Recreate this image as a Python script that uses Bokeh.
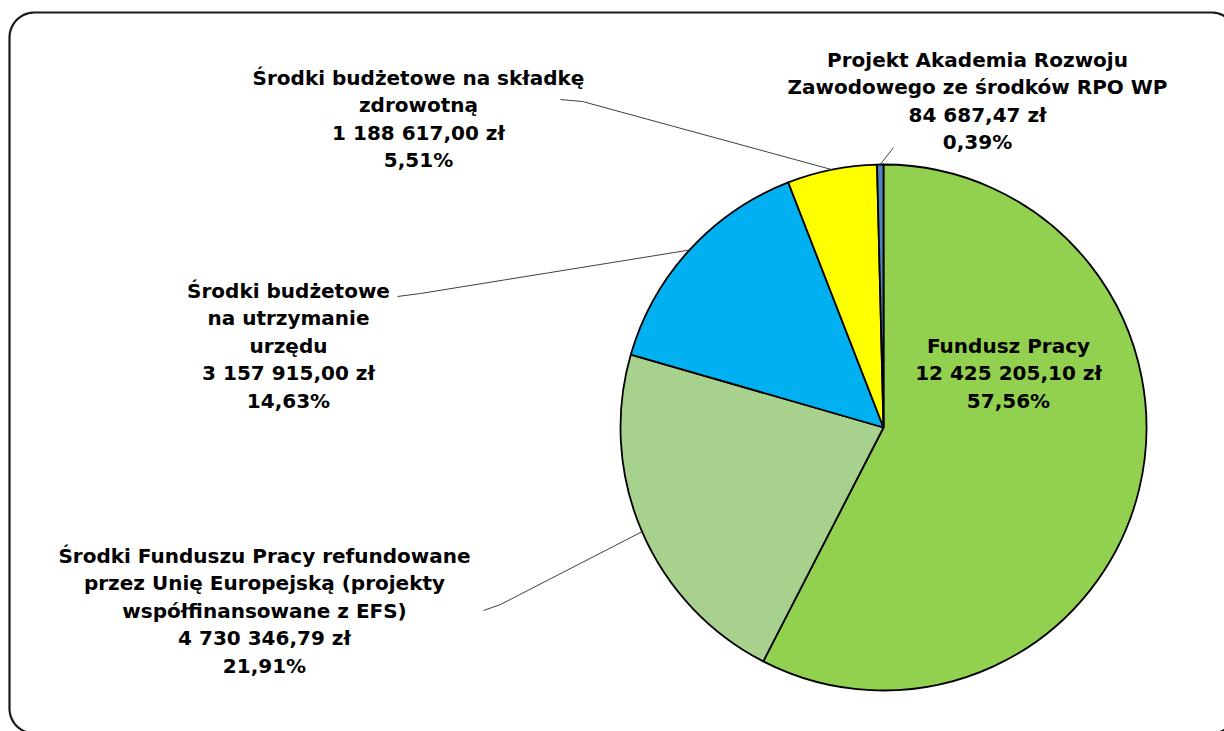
import numpy as np
from bokeh.plotting import figure
from bokeh.models import ColumnDataSource
from bokeh.core.properties import value
from bokeh.embed import file_html
from bokeh.resources import INLINE

# ---------------- data ----------------
categories = [
    "Fundusz Pracy",
    "Środki Funduszu Pracy refundowane przez Unię Europejską (projekty współfinansowane z EFS)",
    "Środki budżetowe na utrzymanie urzędu",
    "Środki budżetowe na składkę zdrowotną",
    "Projekt Akademia Rozwoju Zawodowego ze środków RPO WP",
]
category_lines = [
    ["Fundusz Pracy"],
    ["Środki Funduszu Pracy refundowane", "przez Unię Europejską (projekty", "współfinansowane z EFS)"],
    ["Środki budżetowe", "na utrzymanie", "urzędu"],
    ["Środki budżetowe na składkę", "zdrowotną"],
    ["Projekt Akademia Rozwoju", "Zawodowego ze środków RPO WP"],
]
amounts = [12425205.10, 4730346.79, 3157915.00, 1188617.00, 84687.47]
amount_labels = ["12 425 205,10 zł", "4 730 346,79 zł", "3 157 915,00 zł", "1 188 617,00 zł", "84 687,47 zł"]
percent_labels = ["57,56%", "21,91%", "14,63%", "5,51%", "0,39%"]
colors = ["#92D050", "#A9D18E", "#00B0F0", "#FFFF00", "#4F81BD"]

# ---------------- layout ----------------
W, H = 1224, 731
def fx(x):  # image x -> plot x
    return x
def fy(y):  # image y -> plot y
    return H - y

CX, CY, R = fx(883), fy(427), 263
label_anchor = [(1008, 345), (264, 555), (288, 290), (418, 77), (977, 59)]  # image coords
label_leader_start = [None, [(483, 610), (500, 604)], [(397, 296), (420, 293)], [(560, 99), (582, 101)], [(893, 147)]]
LINE_SP = 27.5

p = figure(width=W, height=H, x_range=(0, W), y_range=(0, H), output_backend="svg",
           toolbar_location=None, min_border=0, x_axis_type=None, y_axis_type=None)
p.grid.grid_line_color = None
p.outline_line_color = None
p.background_fill_color = "white"
p.border_fill_color = "white"

# rounded frame
rr = 25
left, top, right, bottom = fx(9), fy(12), fx(1236), fy(733)
fxs, fys = [], []
def arc(cx, cy, a0, a1):
    t = np.linspace(a0, a1, 20)
    fxs.extend(cx + rr * np.cos(t)); fys.extend(cy + rr * np.sin(t))
arc(right - rr, top - rr, 0, np.pi / 2)
arc(left + rr, top - rr, np.pi / 2, np.pi)
arc(left + rr, bottom + rr, np.pi, 1.5 * np.pi)
arc(right - rr, bottom + rr, 1.5 * np.pi, 2 * np.pi)
fxs.append(fxs[0]); fys.append(fys[0])
p.line(fxs, fys, line_color="#1a1a1a", line_width=2.2)

# pie
vals = np.array(amounts)
frac = vals / vals.sum()
cum = np.concatenate([[0], np.cumsum(frac)])
start = np.pi / 2 - 2 * np.pi * cum[:-1]
end = np.pi / 2 - 2 * np.pi * cum[1:]
src = ColumnDataSource(dict(start=start, end=end, color=colors, cat=categories))
p.wedge(x=CX, y=CY, radius=R, start_angle="start", end_angle="end", direction="clock",
        fill_color="color", line_color="black", line_width=1.8, source=src)

# leader lines
mid = (start + end) / 2
xs_l, ys_l = [], []
for i, pts in enumerate(label_leader_start):
    if pts is None:
        continue
    lx = [fx(a) for a, b in pts] + [CX + R * np.cos(mid[i])]
    ly = [fy(b) for a, b in pts] + [CY + R * np.sin(mid[i])]
    xs_l.append(lx); ys_l.append(ly)
p.multi_line(xs_l, ys_l, line_color="#404040", line_width=1)

# labels
tx, ty, tt = [], [], []
for i in range(len(categories)):
    lines = category_lines[i] + [amount_labels[i], percent_labels[i]]
    ax, ay = label_anchor[i]
    for k, s in enumerate(lines):
        tx.append(fx(ax)); ty.append(fy(ay + k * LINE_SP)); tt.append(s)
p.text(tx, ty, text=tt, text_align="center", text_baseline="middle",
       text_font=value("DejaVu Sans"), text_font_style="bold", text_font_size="20px",
       text_color="#000000")

open("out.html", "w").write(file_html(p, INLINE))
